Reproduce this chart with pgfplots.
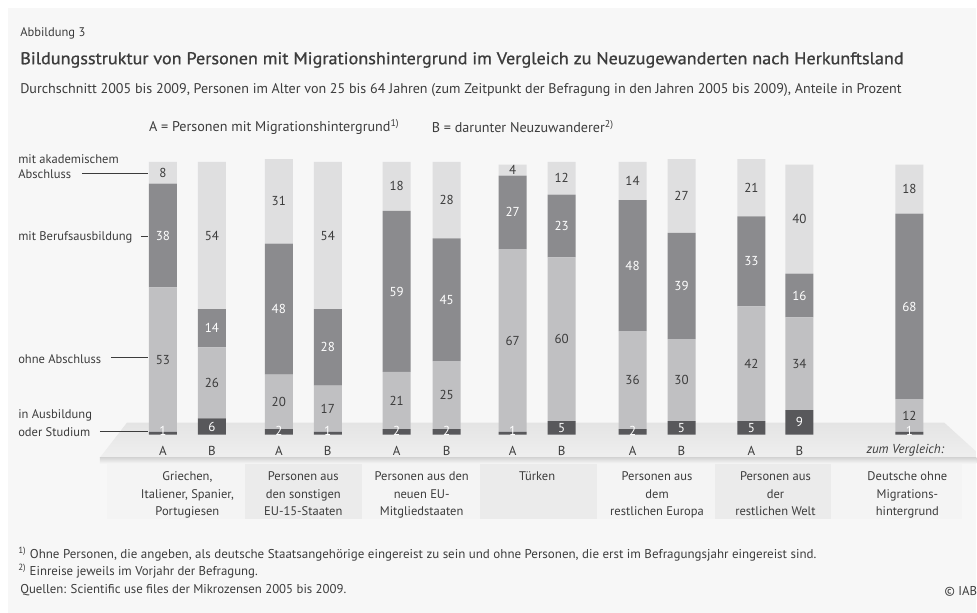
\documentclass[border=0pt]{standalone}
\usepackage{graphicx}
\usepackage{fontspec}
\setmainfont{PT Sans}
\newfontfamily\titlefont{PT Sans}[FakeBold=0.9]
\usepackage{pgfplots}
\pgfplotsset{compat=1.18}

\definecolor{bg}{HTML}{F7F7F7}
\definecolor{txt}{HTML}{3C3C3C}
\definecolor{cAus}{HTML}{58585B}
\definecolor{cOhne}{HTML}{C0C0C2}
\definecolor{cBeruf}{HTML}{8B8B8E}
\definecolor{cAkad}{HTML}{DFDFE0}
\definecolor{boxA}{HTML}{F4F4F4}
\definecolor{boxB}{HTML}{EBEBEB}
\definecolor{floorA}{HTML}{E4E4E4}
\definecolor{floorB}{HTML}{EFEFEF}

% 1 px of the reference = 0.75pt
\pgfplotsset{base/.style={at={(0,0)}, anchor=north west, scale only axis,
    width=732.75pt, height=459.75pt, xmin=0, xmax=977, ymin=-65.2, ymax=159.34,
    axis lines=none, clip=false},
  lbl/.style={draw=none, mark=none, nodes near coords, point meta=explicit symbolic,
    every node near coord/.style={anchor=center, inner sep=0pt,
      font=\fontsize{9.75pt}{11pt}\selectfont, text=#1}}}

\begin{document}
\begin{tikzpicture}
\begin{scope}[x=0.75pt, y=-0.75pt]
  \useasboundingbox (0,0) rectangle (977,613);
  \fill[white] (0,0) rectangle (977,613);
  \fill[bg] (8,8) rectangle (977,613);
  % floor under the bars
  \shade[top color=floorA, bottom color=floorB] (127,423) -- (945,423) -- (977,452) -- (977,458) -- (100,458) -- cycle;
  \shade[top color=black!16, bottom color=bg] (100,458) rectangle (977,464);
  % category boxes
  \fill[boxA] (107,464) rectangle (245,519);
  \fill[boxB] (245,464) rectangle (362,519);
  \fill[boxA] (362,464) rectangle (480,519);
  \fill[boxB] (480,464) rectangle (597,519);
  \fill[boxA] (597,464) rectangle (715,519);
  \fill[boxB] (715,464) rectangle (832,519);
  \fill[boxA] (832,464) rectangle (963,519);
\end{scope}

\begin{axis}[base, ybar stacked, bar width=21pt]
  % in Ausbildung oder Studium
  \addplot[fill=cAus, draw=none] coordinates {(163,1) (212,6) (279,2) (328,1) (397,2) (447,2) (513,1) (562,5) (633,2) (682,5) (752,5) (800,9) (910,1)};
  % ohne Abschluss
  \addplot[fill=cOhne, draw=none] coordinates {(163,53) (212,26) (279,20) (328,17) (397,21) (447,25) (513,67) (562,60) (633,36) (682,30) (752,42) (800,34) (910,12)};
  % mit Berufsausbildung
  \addplot[fill=cBeruf, draw=none] coordinates {(163,38) (212,14) (279,48) (328,28) (397,59) (447,45) (513,27) (562,23) (633,48) (682,39) (752,33) (800,16) (910,68)};
  % mit akademischem Abschluss
  \addplot[fill=cAkad, draw=none] coordinates {(163,8) (212,54) (279,31) (328,54) (397,18) (447,28) (513,4) (562,12) (633,14) (682,27) (752,21) (800,40) (910,18)};
\end{axis}

\begin{axis}[base]
  \addplot[lbl=white] coordinates {(163,1.3)[1] (212,3)[6] (279,1.3)[2] (328,1.3)[1] (397,1.3)[2] (447,1.3)[2] (513,1.3)[1] (562,2.5)[5] (633,1.3)[2] (682,2.5)[5] (752,2.5)[5] (800,4.5)[9] (910,1.3)[1]};
  \addplot[lbl=white] coordinates {(163,73)[38] (212,39)[14] (279,46)[48] (328,32)[28] (397,52.5)[59] (447,49.5)[45] (513,81.5)[27] (562,76.5)[23] (633,62)[48] (682,54.5)[39] (752,63.5)[33] (800,51)[16] (910,47)[68]};
  \addplot[lbl=txt] coordinates {(163,27.5)[53] (212,19)[26] (279,12)[20] (328,9.5)[17] (397,12.5)[21] (447,14.5)[25] (513,34.5)[67] (562,35)[60] (633,20)[36] (682,20)[30] (752,26)[42] (800,26)[34] (910,7)[12]};
  \addplot[lbl=txt] coordinates {(163,96)[8] (212,73)[54] (279,85.5)[31] (328,73)[54] (397,91)[18] (447,86)[28] (513,97)[4] (562,94)[12] (633,93)[14] (682,87.5)[27] (752,90.5)[21] (800,79)[40] (910,90)[18]};
\end{axis}

\begin{scope}[x=0.75pt, y=-0.75pt, every node/.style={inner sep=0pt, text=txt}]
  \node[anchor=west, font=\fontsize{9.4pt}{11pt}\selectfont] at (20,33) {Abbildung 3};
  \node[anchor=west, font=\fontsize{12.75pt}{15pt}\titlefont] at (20,60)
    {\resizebox{663pt}{\height}{Bildungsstruktur von Personen mit Migrationshintergrund im Vergleich zu Neuzugewanderten nach Herkunftsland}};
  \node[anchor=west, font=\fontsize{10.5pt}{12pt}\selectfont] at (20,90)
    {\resizebox{661.5pt}{\height}{Durchschnitt 2005 bis 2009, Personen im Alter von 25 bis 64 Jahren (zum Zeitpunkt der Befragung in den Jahren 2005 bis 2009), Anteile in Prozent}};
  \node[anchor=west, font=\fontsize{10.6pt}{12pt}\selectfont] at (149,127) {A = Personen mit Migrationshintergrund\textsuperscript{1)}};
  \node[anchor=west, font=\fontsize{10.6pt}{12pt}\selectfont] at (432,127) {B = darunter Neuzuwanderer\textsuperscript{2)}};

  % left labels
  \begin{scope}[font=\fontsize{9.4pt}{11pt}\selectfont]
    \node[anchor=west] at (18,159) {mit akademischem};
    \node[anchor=west] at (18,174) {Abschluss};
    \node[anchor=west] at (18,238) {mit Berufsausbildung};
    \node[anchor=west] at (18,359) {ohne Abschluss};
    \node[anchor=west] at (18,416) {in Ausbildung};
    \node[anchor=west] at (18,432) {oder Studium};
  \end{scope}
  \draw[txt, line width=0.5pt] (82,173) -- (148,173);
  \draw[txt, line width=0.5pt] (141,236) -- (148,236);
  \draw[txt, line width=0.5pt] (111,358) -- (148,358);
  \draw[txt, line width=0.5pt] (100,432) -- (148,432);

  % A / B under the bars
  \begin{scope}[font=\fontsize{9.75pt}{11pt}\selectfont]
    \foreach \xa/\xb in {163/212, 279/328, 397/447, 513/562, 633/682, 752/800} {
      \node at (\xa,451) {A};
      \node at (\xb,451) {B};
    }
    \node at (906,451) {\itshape zum Vergleich:};
  \end{scope}

  % categories
  \begin{scope}[every node/.append style={anchor=north, align=center, inner sep=0pt,
      font=\fontsize{9.4pt}{13.1pt}\selectfont}]
    \node at (187.5,472) {Griechen,\\Italiener, Spanier,\\Portugiesen};
    \node at (303.5,472) {Personen aus\\den sonstigen\\EU-15-Staaten};
    \node at (422,472) {Personen aus den\\neuen EU-\\Mitgliedstaaten};
    \node at (537.5,472) {Türken};
    \node at (657.5,472) {Personen aus\\dem\\restlichen Europa};
    \node at (776,472) {Personen aus\\der\\restlichen Welt};
    \node at (908,472) {Deutsche ohne\\Migrations-\\hintergrund};
  \end{scope}

  % footnotes
  \begin{scope}[every node/.append style={anchor=base west}, font=\fontsize{9.6pt}{11pt}\selectfont]
    \node at (18,559) {\resizebox{599pt}{\height}{\textsuperscript{1)} Ohne Personen, die angeben, als deutsche Staatsangehörige eingereist zu sein und ohne Personen, die erst im Befragungsjahr eingereist sind.}};
    \node at (18,576) {\textsuperscript{2)} Einreise jeweils im Vorjahr der Befragung.};
    \node at (20,594) {Quellen: Scientific use files der Mikrozensen 2005 bis 2009.};
    \node at (945,596) {\textcopyright{} IAB};
  \end{scope}
\end{scope}
\end{tikzpicture}
\end{document}
